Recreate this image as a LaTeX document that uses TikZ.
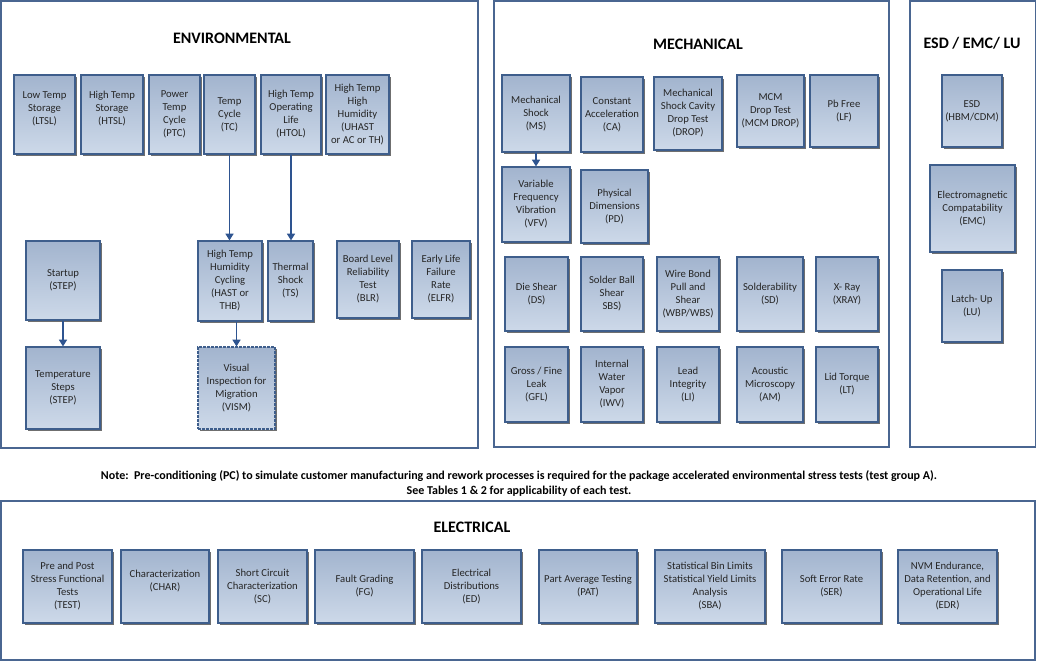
\documentclass[tikz,border=0pt]{standalone}
\usepackage{fontspec}
\setmainfont{Carlito}
\usetikzlibrary{shadows,arrows.meta}
\definecolor{boxtop}{HTML}{A2B4CE}
\definecolor{boxbot}{HTML}{CDD9E9}
\definecolor{boxline}{HTML}{3E5E8C}
\definecolor{frameline}{HTML}{4A6691}
\definecolor{arrowc}{HTML}{2E5490}
\definecolor{txt}{HTML}{262626}
\tikzset{
 tbox/.style={draw=boxline, line width=0.9pt, top color=boxtop, bottom color=boxbot,
   inner sep=0pt, align=center, text=txt, font=\fontsize{8}{9.75}\selectfont,
   drop shadow={shadow xshift=1.5pt, shadow yshift=-1.5pt, fill=black!70, opacity=0.8}},
 frame/.style={draw=frameline, line width=1pt},
 title/.style={font=\fontsize{12}{14}\selectfont\bfseries, text=black},
 arr/.style={draw=arrowc, line width=0.9pt, -{Triangle[width=6pt,length=5pt]}},
}
\newcommand\bx[7][]{\node[tbox,#1,minimum width={(#5-#3)*0.75pt},minimum height={(#6-#4)*0.75pt}] (#2) at ({(#3+#5)/2},{(#4+#6)/2}) {#7};}
\begin{document}
\begin{tikzpicture}[x=0.75pt,y=-0.75pt]
\useasboundingbox (0,0) rectangle (1037,664);
\fill[white] (0,0) rectangle (1037,664);
% frames
\draw[frame] (1,1) rectangle (478,448);
\draw[frame] (494,1) rectangle (889,447);
\draw[frame] (910,1) rectangle (1035.5,447);
\draw[frame] (1,501) rectangle (1035,660);
% titles
\node[title] (tenv) at (232,38) {ENVIRONMENTAL};
\node[title] (tmech) at (698,44) {MECHANICAL};
\node[title] (tesd) at (972,43) {ESD / EMC/ LU};
\node[title] (telec) at (472,527) {ELECTRICAL};
% environmental
\bx{ltsl}{14}{75}{75}{154}{Low Temp\\Storage\\(LTSL)\\~}
\bx{htsl}{81}{75}{143}{154}{High Temp\\Storage\\(HTSL)\\~}
\bx{ptc}{149}{75}{200}{154}{Power\\Temp\\Cycle\\(PTC)}
\bx{tc}{204}{75}{255}{154}{Temp\\Cycle\\(TC)}
\bx{htol}{261}{75}{321}{154}{High Temp\\Operating\\Life\\(HTOL)}
\bx{uhast}{326}{75}{389}{154}{High Temp\\High\\Humidity\\(UHAST\\or AC or TH)}
\bx{startup}{26}{241}{100}{320}{Startup\\(STEP)}
\bx{tsteps}{26}{347}{100}{429}{Temperature\\Steps\\(STEP)}
\bx{hast}{198}{241}{262}{321}{High Temp\\Humidity\\Cycling\\(HAST or\\THB)}
\bx{ts}{268}{241}{313}{321}{Thermal\\Shock\\(TS)}
\bx{blr}{337}{241}{399}{318}{Board Level\\Reliability\\Test\\(BLR)}
\bx{elfr}{412}{241}{470}{318}{Early Life\\Failure\\Rate\\(ELFR)}
\bx[dash pattern=on 2pt off 1pt]{vism}{198}{347}{275}{429}{Visual\\Inspection for\\Migration\\(VISM)}
\draw[arr] (tc.south) -- (tc.south |- hast.north);
\draw[arr] (htol.south) -- (htol.south |- ts.north);
\draw[arr] (startup.south) -- (startup.south |- tsteps.north);
\draw[arr] (vism.north |- hast.south) -- (vism.north);
% mechanical
\bx{ms}{502}{75}{570}{152}{Mechanical\\Shock\\(MS)}
\bx{ca}{581}{77}{643}{152}{Constant\\Acceleration\\(CA)}
\bx{drop}{654}{77}{722}{150}{Mechanical\\Shock Cavity\\Drop Test\\(DROP)}
\bx{mcm}{737}{75}{804}{147}{MCM\\Drop Test\\(MCM DROP)}
\bx{lf}{810}{75}{878}{147}{Pb Free\\(LF)}
\bx{vfv}{502}{167}{570}{242}{Variable\\Frequency\\Vibration\\(VFV)}
\bx{pd}{581}{170}{648}{243}{Physical\\Dimensions\\(PD)}
\bx{ds}{505}{257}{568}{331}{Die Shear\\(DS)}
\bx{sbs}{581}{257}{643}{331}{Solder Ball\\Shear\\SBS)}
\bx{wbp}{657}{257}{719}{331}{Wire Bond\\Pull and\\Shear\\(WBP/WBS)}
\bx{sd}{737}{257}{803}{331}{Solderability\\(SD)}
\bx{xray}{816}{257}{878}{331}{X- Ray\\(XRAY)}
\bx{gfl}{505}{347}{568}{422}{Gross / Fine\\Leak\\(GFL)}
\bx{iwv}{581}{347}{643}{422}{Internal\\Water\\Vapor\\(IWV)}
\bx{li}{657}{347}{719}{422}{Lead\\Integrity\\(LI)}
\bx{am}{737}{347}{803}{422}{Acoustic\\Microscopy\\(AM)}
\bx{lt}{816}{347}{878}{422}{Lid Torque\\(LT)}
\draw[arr] (ms.south) -- (ms.south |- vfv.north);
% esd
\bx{esd}{942}{75}{1002}{147}{ESD\\(HBM/CDM)}
\bx{emc}{930}{165}{1015}{252}{Electromagnetic\\Compatability\\(EMC)}
\bx{lu}{942}{270}{1002}{342}{Latch- Up\\(LU)}
% note
\node[font=\fontsize{9}{11.25}\selectfont\bfseries, align=center, text=black] (note) at (519,483.5)
 {Note:~~Pre-conditioning (PC) to simulate customer manufacturing and rework processes is required for the package accelerated environmental stress tests (test group A).\\See Tables 1 \& 2 for applicability of each test.};
% electrical
\bx{test}{23}{550}{112}{623}{Pre and Post\\Stress Functional\\Tests\\(TEST)}
\bx{char}{121}{550}{209}{623}{Characterization\\(CHAR)\\~}
\bx{sc}{218}{550}{307}{623}{Short Circuit\\Characterization\\(SC)}
\bx{fg}{315}{550}{414}{623}{Fault Grading\\(FG)}
\bx{ed}{422}{550}{521}{623}{Electrical\\Distributions\\(ED)}
\bx{pat}{539}{550}{637}{623}{Part Average Testing\\(PAT)}
\bx{sba}{655}{550}{765}{623}{Statistical Bin Limits\\Statistical Yield Limits\\Analysis\\(SBA)}
\bx{ser}{782}{550}{881}{623}{Soft Error Rate\\(SER)}
\bx{edr}{898}{550}{997}{623}{NVM Endurance,\\Data Retention, and\\Operational Life\\(EDR)}
\end{tikzpicture}
\end{document}
